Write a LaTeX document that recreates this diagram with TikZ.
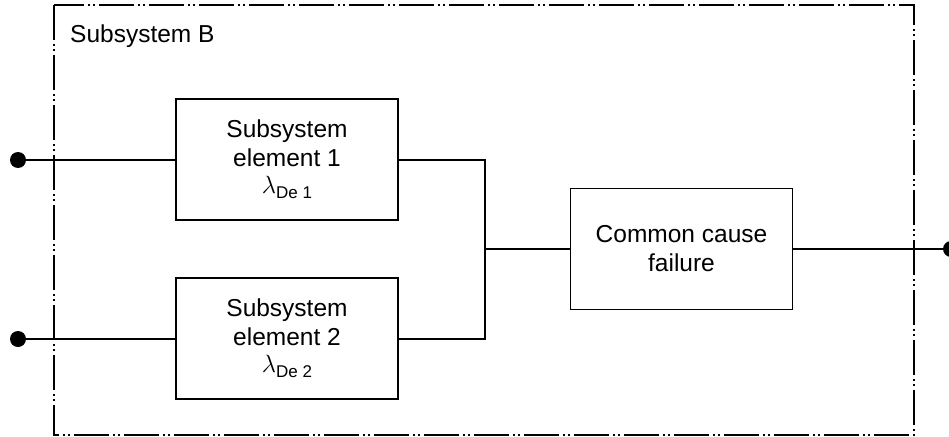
\documentclass[tikz,border=0pt]{standalone}
\usepackage{fontspec}
\setmainfont{Liberation Sans}
\newcommand{\lamsub}[1]{{\fontsize{28}{28}\selectfont$\lambda$}\raisebox{-5pt}{\fontsize{17}{17}\selectfont #1}}
\begin{document}
\begin{tikzpicture}[x=1pt, y=-1pt,
  blk/.style={draw, line width=1.4pt, minimum width=222pt, minimum height=121pt,
    inner sep=0pt, align=center, font=\fontsize{24.5}{29}\selectfont},
  wire/.style={line width=1.1pt},
  term/.style={circle, fill, inner sep=0pt, minimum size=16pt},
  frameline/.style={line width=1.5pt,
    dash pattern=on 35pt off 4pt on 2pt off 3pt on 2pt off 4pt}]
  \useasboundingbox (0,0) rectangle (949,436);
  \clip (0,0) rectangle (949,436);

  % subsystem boundary
  \draw[frameline] (54,5) rectangle (914,435);
  \node[anchor=base west, font=\fontsize{24.5}{29}\selectfont, inner sep=0pt]
    (title) at (70,43) {Subsystem B};

  % blocks
  \node[blk] (e1) at (287,159.5) {Subsystem\\element 1\\[-2pt]\lamsub{De 1}};
  \node[blk] (e2) at (287,338.5) {Subsystem\\element 2\\[-2pt]\lamsub{De 2}};
  \node[blk] (ccf) at (681.5,249) {Common cause\\failure};

  % terminals
  \node[term] (in1) at (18,160) {};
  \node[term] (in2) at (18,339) {};
  \node[term] (out) at (951,249) {};
  \coordinate (j) at (485,249);

  % wiring
  \draw[wire] (in1) -- (in1 -| e1.west);
  \draw[wire] (in2) -- (in2 -| e2.west);
  \draw[wire] (e1.east |- in1) -| (j);
  \draw[wire] (e2.east |- in2) -| (j);
  \draw[wire] (j) -- (ccf.west);
  \draw[wire] (ccf.east) -- (out);
\end{tikzpicture}
\end{document}
